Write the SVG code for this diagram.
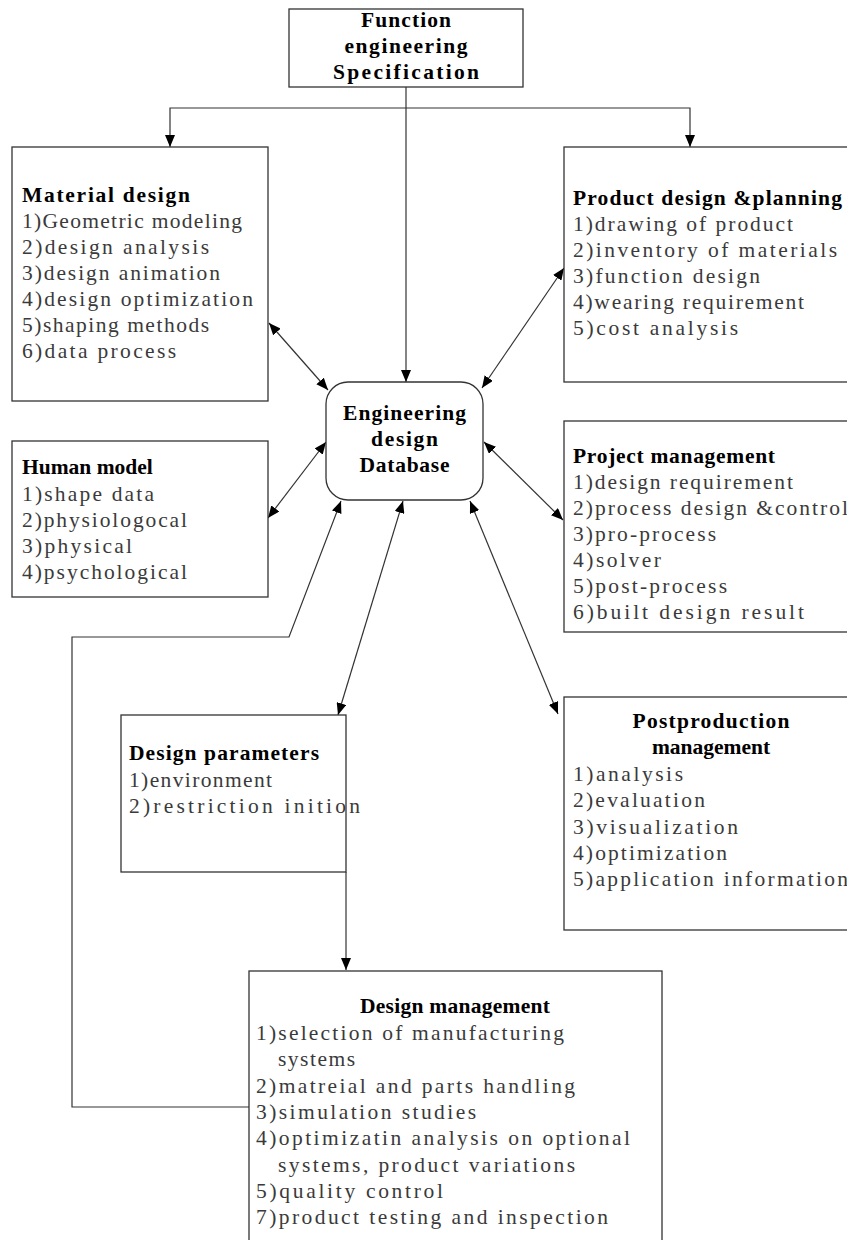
<svg xmlns="http://www.w3.org/2000/svg" width="847" height="1240" viewBox="0 0 847 1240">
  <style>
    .box { fill: #ffffff; stroke: #333333; stroke-width: 1.3; }
    .hd { font-family: "Liberation Serif", "Noto Sans CJK SC", serif; font-size: 21.5px; font-weight: bold; fill: #000000; }
    .it { font-family: "Liberation Serif", "Noto Sans CJK SC", serif; font-size: 21.5px; fill: #3a3a3a; }
    .ctr { text-anchor: middle; }
    .wire { fill: none; stroke: #333333; stroke-width: 1.2; }
    .two { marker-start: url(#tip); marker-end: url(#tip); }
    .one { marker-end: url(#tip); }
  </style>
  <defs>
    <marker id="tip" viewBox="0 0 12 10" refX="12" refY="5" markerWidth="12" markerHeight="10" markerUnits="userSpaceOnUse" orient="auto-start-reverse">
      <path d="M0,0 L12,5 L0,10 z" fill="#000000"/>
    </marker>
  </defs>
  <rect width="847" height="1240" fill="#ffffff"/>

  <!-- connectors -->
  <g id="connectors">
    <path class="wire one" d="M406,87 V382"/>
    <path class="wire two" d="M170,147 V108 H690 V147"/>
    <path class="wire two" d="M269,323 L328,390"/>
    <path class="wire two" d="M268,518 L326,442"/>
    <path class="wire two" d="M482,388 L564,268"/>
    <path class="wire two" d="M484,442 L563,520"/>
    <path class="wire two" d="M403,501 L338,715"/>
    <path class="wire two" d="M470,501 L558,714"/>
    <path class="wire one" d="M346,872 V970"/>
    <path class="wire one" d="M249,1107 H72 V637 H289 L341,501"/>
  </g>

  <g id="spec">
    <rect class="box" x="289" y="9" width="234" height="78"/>
    <text class="hd ctr" x="406" y="27" textLength="90" lengthAdjust="spacing">Function</text>
    <text class="hd ctr" x="406" y="53" textLength="123" lengthAdjust="spacing">engineering</text>
    <text class="hd ctr" x="406" y="79" textLength="146" lengthAdjust="spacing">Specification</text>
  </g>

  <g id="material">
    <rect class="box" x="12" y="147" width="256" height="254"/>
    <text class="hd" x="22" y="202" textLength="168" lengthAdjust="spacing">Material design</text>
    <text class="it" x="22" y="228" textLength="220" lengthAdjust="spacing">1)Geometric modeling</text>
    <text class="it" x="22" y="254" textLength="187" lengthAdjust="spacing">2)design analysis</text>
    <text class="it" x="22" y="280" textLength="198" lengthAdjust="spacing">3)design animation</text>
    <text class="it" x="22" y="306" textLength="231" lengthAdjust="spacing">4)design optimization</text>
    <text class="it" x="22" y="332" textLength="187" lengthAdjust="spacing">5)shaping methods</text>
    <text class="it" x="22" y="358" textLength="154" lengthAdjust="spacing">6)data process</text>
  </g>

  <g id="product">
    <rect class="box" x="564" y="147" width="300" height="235"/>
    <text class="hd" x="573" y="205" textLength="269" lengthAdjust="spacing">Product design &amp;planning</text>
    <text class="it" x="573" y="231" textLength="220" lengthAdjust="spacing">1)drawing of product</text>
    <text class="it" x="573" y="257" textLength="264" lengthAdjust="spacing">2)inventory of materials</text>
    <text class="it" x="573" y="283" textLength="187" lengthAdjust="spacing">3)function design</text>
    <text class="it" x="573" y="309" textLength="231" lengthAdjust="spacing">4)wearing requirement</text>
    <text class="it" x="573" y="335" textLength="165" lengthAdjust="spacing">5)cost analysis</text>
  </g>

  <g id="database">
    <rect class="box" x="326" y="382" width="157" height="118" rx="22" ry="22"/>
    <text class="hd ctr" x="404.5" y="420" textLength="123" lengthAdjust="spacing">Engineering</text>
    <text class="hd ctr" x="404.5" y="446" textLength="67" lengthAdjust="spacing">design</text>
    <text class="hd ctr" x="404.5" y="472" textLength="90" lengthAdjust="spacing">Database</text>
  </g>

  <g id="human">
    <rect class="box" x="12" y="441" width="256" height="156"/>
    <text class="hd" x="22" y="474">Human model</text>
    <text class="it" x="22" y="501" textLength="132" lengthAdjust="spacing">1)shape data</text>
    <text class="it" x="22" y="527" textLength="165" lengthAdjust="spacing">2)physiologocal</text>
    <text class="it" x="22" y="553" textLength="110" lengthAdjust="spacing">3)physical</text>
    <text class="it" x="22" y="579" textLength="165" lengthAdjust="spacing">4)psychological</text>
  </g>

  <g id="project">
    <rect class="box" x="564" y="421" width="300" height="211"/>
    <text class="hd" x="573" y="463" textLength="202" lengthAdjust="spacing">Project management</text>
    <text class="it" x="573" y="489" textLength="220" lengthAdjust="spacing">1)design requirement</text>
    <text class="it" x="573" y="515" textLength="275" lengthAdjust="spacing">2)process design &amp;control</text>
    <text class="it" x="573" y="541" textLength="143" lengthAdjust="spacing">3)pro-process</text>
    <text class="it" x="573" y="567" textLength="88" lengthAdjust="spacing">4)solver</text>
    <text class="it" x="573" y="593" textLength="154" lengthAdjust="spacing">5)post-process</text>
    <text class="it" x="573" y="619" textLength="231" lengthAdjust="spacing">6)built design result</text>
  </g>

  <g id="parameters">
    <rect class="box" x="121" y="715" width="225" height="157"/>
    <text class="hd" x="129" y="760" textLength="190" lengthAdjust="spacing">Design parameters</text>
    <text class="it" x="129" y="787" textLength="143" lengthAdjust="spacing">1)environment</text>
    <text class="it" x="129" y="813" textLength="231" lengthAdjust="spacing">2)restriction inition</text>
  </g>

  <g id="postproduction">
    <rect class="box" x="564" y="697" width="300" height="233"/>
    <text class="hd ctr" x="711" y="728" textLength="157" lengthAdjust="spacing">Postproduction</text>
    <text class="hd ctr" x="711" y="754">management</text>
    <text class="it" x="573" y="781" textLength="110" lengthAdjust="spacing">1)analysis</text>
    <text class="it" x="573" y="807" textLength="132" lengthAdjust="spacing">2)evaluation</text>
    <text class="it" x="573" y="834" textLength="165" lengthAdjust="spacing">3)visualization</text>
    <text class="it" x="573" y="860" textLength="154" lengthAdjust="spacing">4)optimization</text>
    <text class="it" x="573" y="886" textLength="275" lengthAdjust="spacing">5)application information</text>
  </g>

  <g id="management">
    <rect class="box" x="249" y="971" width="413" height="290"/>
    <text class="hd ctr" x="455" y="1013" textLength="190" lengthAdjust="spacing">Design management</text>
    <text class="it" x="256" y="1040" textLength="308" lengthAdjust="spacing">1)selection of manufacturing</text>
    <text class="it" x="278" y="1066" textLength="77" lengthAdjust="spacing">systems</text>
    <text class="it" x="256" y="1093" textLength="319" lengthAdjust="spacing">2)matreial and parts handling</text>
    <text class="it" x="256" y="1119" textLength="220" lengthAdjust="spacing">3)simulation studies</text>
    <text class="it" x="256" y="1145" textLength="374" lengthAdjust="spacing">4)optimizatin analysis on optional</text>
    <text class="it" x="278" y="1172" textLength="297" lengthAdjust="spacing">systems, product variations</text>
    <text class="it" x="256" y="1198" textLength="187" lengthAdjust="spacing">5)quality control</text>
    <text class="it" x="256" y="1224" textLength="352" lengthAdjust="spacing">7)product testing and inspection</text>
  </g>
</svg>
